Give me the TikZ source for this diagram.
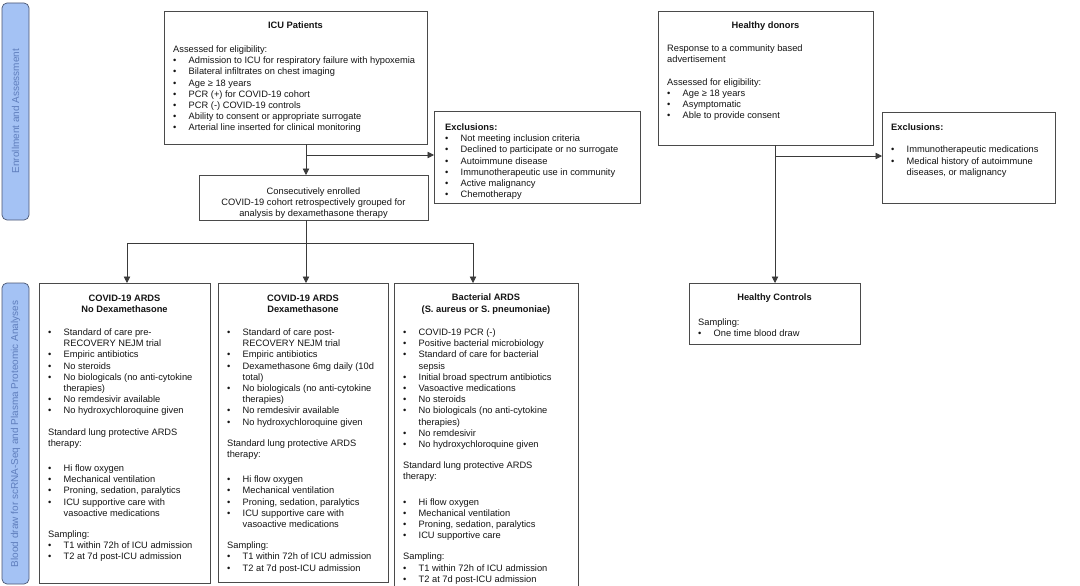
\documentclass[tikz,border=0pt]{standalone}
\usepackage{fontspec}
\setmainfont{Liberation Sans}
\usetikzlibrary{arrows.meta,calc}
\definecolor{sidefill}{HTML}{A4C2F4}
\definecolor{sidedraw}{HTML}{4A5672}
\definecolor{sidetext}{HTML}{5F7EBD}
\definecolor{boxline}{HTML}{4A4A4A}
\definecolor{arrline}{HTML}{3A3A3A}
\newcommand{\B}{\makebox[15.5pt][l]{•}}
\newcommand{\C}{\hspace*{15.5pt}}
\tikzset{
  side/.style={draw=sidedraw, fill=sidefill, rounded corners=5pt, line width=0.7pt},
  sidelabel/.style={text=sidetext, font=\fontsize{10}{12}\selectfont, rotate=90, inner sep=0pt},
  box/.style={draw=boxline, line width=0.9pt, inner sep=0pt, outer sep=0pt, anchor=north west},
  body/.style={font=\fontsize{9.3}{11.2}\selectfont, align=left, inner sep=0pt, anchor=north west, text=black!92},
  ttl/.style={font=\fontsize{9.3}{11.6}\selectfont\bfseries, align=center, inner sep=0pt, anchor=north, text=black!92},
  ctext/.style={font=\fontsize{9.3}{11.2}\selectfont, align=center, inner sep=0pt, anchor=north, text=black!92},
  arr/.style={draw=arrline, line width=0.8pt, -{Triangle[length=6.5pt,width=6.5pt]}},
  ln/.style={draw=arrline, line width=0.8pt}
}
\begin{document}
\begin{tikzpicture}[x=1pt,y=-1pt]
\path[use as bounding box] (0,0) rectangle (1080,586);
% sidebars
\draw[side] (2,3) rectangle (29,220);
\node[sidelabel] (lab1) at (15.5,111) {Enrollment and Assessment};
\draw[side] (2,283) rectangle (29,584);
\node[sidelabel] (lab2) at (15.5,434) {Blood draw for scRNA-Seq and Plasma Proteomic Analyses};

% ICU patients
\node[box, minimum width=263pt, minimum height=133pt] (icu) at (164,11) {};
\node[ttl, anchor=center] (icut) at (295.5,25) {ICU Patients};
\node[body] (icub) at (173,45.5) {Assessed for eligibility:\\
\B Admission to ICU for respiratory failure with hypoxemia\\
\B Bilateral infiltrates on chest imaging\\
\B Age ≥ 18 years\\
\B PCR (+) for COVID-19 cohort\\
\B PCR (-) COVID-19 controls\\
\B Ability to consent or appropriate surrogate\\
\B Arterial line inserted for clinical monitoring};

% consecutively enrolled
\node[box, minimum width=229pt, minimum height=45pt] (cons) at (199,175) {};
\node[ctext] (consb) at (313.5,187.5) {Consecutively enrolled\\COVID-19 cohort retrospectively grouped for\\analysis by dexamethasone therapy};

% exclusions 1
\node[box, minimum width=206pt, minimum height=92pt] (exa) at (434,111) {};
\node[body] (exab) at (445,123.5) {\textbf{Exclusions:}\\
\B Not meeting inclusion criteria\\
\B Declined to participate or no surrogate\\
\B Autoimmune disease\\
\B Immunotherapeutic use in community\\
\B Active malignancy\\
\B Chemotherapy};

% healthy donors
\node[box, minimum width=215pt, minimum height=134pt] (hd) at (658,11) {};
\node[ttl, anchor=center] (hdt) at (765.5,26) {Healthy donors};
\node[body] (hdb) at (667,44.5) {Response to a community based\\advertisement\\[11.2pt]
Assessed for eligibility:\\
\B Age ≥ 18 years\\
\B Asymptomatic\\
\B Able to provide consent};

% exclusions 2
\node[box, minimum width=173pt, minimum height=91pt] (exb) at (882,112) {};
\node[body] (exbb) at (891,123.5) {\textbf{Exclusions:}\\[11.2pt]
\B Immunotherapeutic medications\\
\B Medical history of autoimmune\\
\C diseases, or malignancy};

% healthy controls
\node[box, minimum width=171pt, minimum height=61pt] (hc) at (689,283) {};
\node[ttl, anchor=center] (hct) at (774.5,298) {Healthy Controls};
\node[body] (hcb) at (698,318.5) {Sampling:\\
\B One time blood draw};

% box 1
\node[box, minimum width=171pt, minimum height=300pt] (b1) at (39,283) {};
\node[ttl] (b1t) at (124.5,294.5) {COVID-19 ARDS\\No Dexamethasone};
\node[body] (b1b) at (48,328.5) {\B Standard of care pre-\\
\C RECOVERY NEJM trial\\
\B Empiric antibiotics\\
\B No steroids\\
\B No biologicals (no anti-cytokine\\
\C therapies)\\
\B No remdesivir available\\
\B No hydroxychloroquine given\\[10pt]
Standard lung protective ARDS\\
therapy:\\[14pt]
\B Hi flow oxygen\\
\B Mechanical ventilation\\
\B Proning, sedation, paralytics\\
\B ICU supportive care with\\
\C vasoactive medications\\[10pt]
Sampling:\\
\B T1 within 72h of ICU admission\\
\B T2 at 7d post-ICU admission};

% box 2
\node[box, minimum width=170pt, minimum height=299pt] (b2) at (218,283) {};
\node[ttl] (b2t) at (303,294.5) {COVID-19 ARDS\\Dexamethasone};
\node[body] (b2b) at (227,328.5) {\B Standard of care post-\\
\C RECOVERY NEJM trial\\
\B Empiric antibiotics\\
\B Dexamethasone 6mg daily (10d\\
\C total)\\
\B No biologicals (no anti-cytokine\\
\C therapies)\\
\B No remdesivir available\\
\B No hydroxychloroquine given\\[10pt]
Standard lung protective ARDS\\
therapy:\\[14pt]
\B Hi flow oxygen\\
\B Mechanical ventilation\\
\B Proning, sedation, paralytics\\
\B ICU supportive care with\\
\C vasoactive medications\\[10pt]
Sampling:\\
\B T1 within 72h of ICU admission\\
\B T2 at 7d post-ICU admission};

% box 3
\node[box, minimum width=184pt, minimum height=303pt] (b3) at (394,283) {};
\node[ttl] (b3t) at (486,293.5) {Bacterial ARDS\\(S. aureus or S. pneumoniae)};
\node[body] (b3b) at (403,328.5) {\B COVID-19 PCR (-)\\
\B Positive bacterial microbiology\\
\B Standard of care for bacterial\\
\C sepsis\\
\B Initial broad spectrum antibiotics\\
\B Vasoactive medications\\
\B No steroids\\
\B No biologicals (no anti-cytokine\\
\C therapies)\\
\B No remdesivir\\
\B No hydroxychloroquine given\\[10pt]
Standard lung protective ARDS\\
therapy:\\[14pt]
\B Hi flow oxygen\\
\B Mechanical ventilation\\
\B Proning, sedation, paralytics\\
\B ICU supportive care\\[10pt]
Sampling:\\
\B T1 within 72h of ICU admission\\
\B T2 at 7d post-ICU admission};

% connectors
\coordinate (s1) at (306,155);
\draw[arr] (icu.south -| s1) -- (cons.north -| s1);
\draw[arr] (s1) -- (exa.west |- s1);
\coordinate (s2) at (306,243);
\coordinate (a1) at (127,243);
\coordinate (a3) at (473,243);
\draw[ln] (cons.south -| s2) -- (s2);
\draw[ln] (a1) -- (a3);
\draw[arr] (a1) -- (b1.north -| a1);
\draw[arr] (s2) -- (b2.north -| s2);
\draw[arr] (a3) -- (b3.north -| a3);
\coordinate (s3) at (775,156);
\draw[arr] (hd.south -| s3) -- (hc.north -| s3);
\draw[arr] (s3) -- (exb.west |- s3);
\end{tikzpicture}
\end{document}
